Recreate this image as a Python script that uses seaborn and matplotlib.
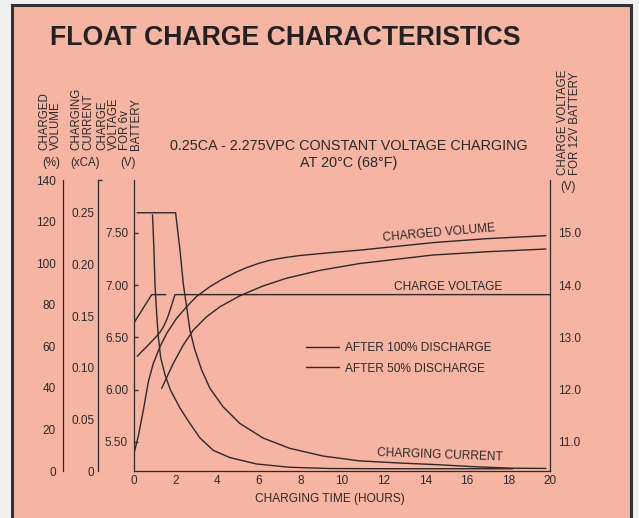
import matplotlib
matplotlib.use("Agg")
import matplotlib.pyplot as plt
from matplotlib.patches import Rectangle
from matplotlib.lines import Line2D
from matplotlib.ticker import FixedLocator, FormatStrFormatter
import seaborn as sns

# charging current (xCA)
cur_100_h = [0.15, 2.0, 2.21, 2.37, 2.53, 2.69, 2.93, 3.25, 3.65, 4.29, 5.09, 6.20, 7.48,
             9.08, 10.84, 12.8, 14.7, 16.5, 18.2, 19.8]
cur_100 = [0.250, 0.250, 0.214, 0.181, 0.159, 0.136, 0.117, 0.098, 0.080, 0.062, 0.046, 0.032,
           0.022, 0.0145, 0.0098, 0.0077, 0.006, 0.004, 0.0027, 0.0025]
cur_50_h = [0.89, 0.96, 1.01, 1.09, 1.17, 1.28, 1.49, 1.76, 2.21, 2.69, 3.17, 3.81, 4.61,
            5.89, 7.5, 9.42, 12.0, 15.0, 18.2]
cur_50 = [0.248, 0.214, 0.180, 0.152, 0.130, 0.110, 0.093, 0.078, 0.061, 0.046, 0.032, 0.020,
          0.013, 0.0068, 0.0036, 0.0024, 0.0022, 0.0022, 0.0022]

# charge voltage, 6V battery (V)
volt_100_h = [0.15, 0.60, 1.08, 1.25, 1.41, 1.55, 1.65, 1.73, 1.81, 1.89, 1.97, 20.0]
volt_100 = [6.32, 6.41, 6.51, 6.55, 6.60, 6.66, 6.71, 6.76, 6.81, 6.86, 6.91, 6.91]
volt_50_h = [0.0, 0.85, 1.53]
volt_50 = [6.64, 6.91, 6.91]

# charged volume (%)
vol_50_h = [0.0, 0.2, 0.45, 0.69, 0.93, 1.25, 1.57, 2.05, 2.53, 3.0, 3.65, 4.2, 4.9, 5.4,
            6.0, 6.5, 7.2, 8.0, 9.5, 11.0, 14.4, 17.0, 19.8]
vol_50 = [8.5, 16.5, 29.3, 43.0, 51.8, 59.8, 66.2, 73.5, 79.0, 83.9, 88.7, 92.0, 95.6, 97.8,
          99.9, 101.3, 102.6, 103.7, 105.1, 106.4, 109.9, 111.8, 113.2]
vol_100_h = [1.33, 1.89, 2.37, 2.85, 3.49, 4.13, 5.09, 6.2, 7.32, 8.92, 10.84, 14.36, 17.0, 19.8]
vol_100 = [39.8, 51.8, 60.6, 67.8, 74.2, 79.0, 84.3, 89.0, 92.7, 96.5, 99.8, 103.9, 105.5, 106.8]

hour_ticks = [0, 2, 4, 6, 8, 10, 12, 14, 16, 18, 20]
v6_ticks = [5.50, 6.00, 6.50, 7.00, 7.50]
v12_ticks = [11.0, 12.0, 13.0, 14.0, 15.0]
cur_ticks = [0, 0.05, 0.10, 0.15, 0.20, 0.25]
vol_ticks = [0, 20, 40, 60, 80, 100, 120, 140]

sns.set_style("ticks")
plt.rcParams["font.family"] = ["Liberation Sans", "DejaVu Sans"]

W, H = 639, 518
ink = "#2a2a2a"
pink = "#f6b4a3"


def fx(px):
    return px / W


def fy(py):
    return 1 - py / H


fig = plt.figure(figsize=(W / 100, H / 100), dpi=100, facecolor="#f0f0f0")
fig.add_artist(Rectangle((fx(12), -0.05), fx(631) - fx(12), fy(5) + 0.05,
                         transform=fig.transFigure, facecolor=pink, edgecolor="#333333",
                         linewidth=2.2, zorder=-1))

ax = fig.add_axes([fx(134), fy(471), fx(550) - fx(134), fy(180) - fy(471)])
ax.patch.set_visible(False)
ax_cur = ax.twinx()
ax_vol = ax.twinx()
ax_r = ax.twinx()

lw = 1.0
for h, v in [(volt_100_h, volt_100), (volt_50_h, volt_50)]:
    sns.lineplot(x=h, y=v, ax=ax, color=ink, lw=lw, sort=False, estimator=None)
for h, v in [(cur_100_h, cur_100), (cur_50_h, cur_50)]:
    sns.lineplot(x=h, y=v, ax=ax_cur, color=ink, lw=lw, sort=False, estimator=None)
for h, v in [(vol_50_h, vol_50), (vol_100_h, vol_100)]:
    sns.lineplot(x=h, y=v, ax=ax_vol, color=ink, lw=lw, sort=False, estimator=None)

v6_lim = (5.222, 8.007)
ax.set_xlim(0, 20)
ax.set_ylim(*v6_lim)
ax_r.set_ylim(v6_lim[0] * 2, v6_lim[1] * 2)
ax_cur.set_ylim(0, 0.2817)
ax_vol.set_ylim(0, 140)

tick_fs = 8.5
ax.set_xticks(hour_ticks)
ax.set_xticklabels([str(t) for t in hour_ticks])
ax.set_yticks(v6_ticks)
ax.yaxis.set_major_formatter(FormatStrFormatter("%.2f"))
ax.tick_params(axis="x", length=0, pad=3, labelsize=tick_fs, colors=ink)
ax.tick_params(axis="y", direction="in", length=3, width=0.9, pad=4.3, labelsize=tick_fs, colors=ink)
for s in ["left", "bottom", "right"]:
    ax.spines[s].set_color(ink)
    ax.spines[s].set_linewidth(0.9)
ax.spines["top"].set_visible(False)

ax_r.set_yticks(v12_ticks)
ax_r.yaxis.set_major_formatter(FormatStrFormatter("%.1f"))
ax_r.tick_params(axis="y", length=0, pad=5.8, labelsize=tick_fs, colors=ink)
for s in ax_r.spines.values():
    s.set_visible(False)

axis_w = 550 - 134
for a, xpos, ticks, top, fmt, pad in [
    (ax_cur, 98.3, cur_ticks, 0.2817, lambda t: "0" if t == 0 else f"{t:.2f}", 3),
    (ax_vol, 63, vol_ticks, 140, lambda t: str(t), 5),
]:
    for s in a.spines.values():
        s.set_visible(False)
    a.spines["left"].set_visible(True)
    a.spines["left"].set_position(("axes", (xpos - 134) / axis_w))
    a.spines["left"].set_color(ink)
    a.spines["left"].set_linewidth(0.9)
    a.yaxis.set_ticks_position("left")
    a.yaxis.set_label_position("left")
    a.set_yticks(ticks)
    a.set_yticklabels([fmt(t) for t in ticks])
    a.yaxis.set_minor_locator(FixedLocator([0, top]))
    a.tick_params(axis="y", which="major", length=0, pad=pad, labelsize=tick_fs, colors=ink)
    a.tick_params(axis="y", which="minor", direction="in", length=3, width=0.9, colors=ink)

for a in [ax, ax_cur, ax_vol, ax_r]:
    a.set_xlabel("")
    a.set_ylabel("")

# titles and axis captions
fig.text(fx(50), fy(38), "FLOAT CHARGE CHARACTERISTICS", fontsize=19.2, fontweight="bold",
         color="#222222", ha="left", va="center")
fig.text(fx(349), fy(146), "0.25CA - 2.275VPC CONSTANT VOLTAGE CHARGING",
         fontsize=10.4, color=ink, ha="center", va="center")
fig.text(fx(349), fy(163), "AT 20°C (68°F)", fontsize=10.4, color=ink, ha="center", va="center")

cap_fs = 8.3
for x, txt in [(50.5, "CHARGED\nVOLUME"), (82.5, "CHARGING\nCURRENT"),
               (119.5, "CHARGE\nVOLTAGE\nFOR 6v\nBATTERY")]:
    fig.text(fx(x), fy(150), txt, rotation=90, fontsize=cap_fs, color=ink, ha="center",
             va="bottom", multialignment="left", linespacing=0.92)
fig.text(fx(569), fy(175), "CHARGE VOLTAGE\nFOR 12V BATTERY", rotation=90, fontsize=cap_fs,
         color=ink, ha="center", va="bottom", multialignment="left", linespacing=0.92)
for x, y, txt in [(51, 163, "(%)"), (85.5, 163, "(xCA)"), (128, 163, "(V)"), (568, 187, "(V)")]:
    fig.text(fx(x), fy(y), txt, fontsize=cap_fs, color=ink, ha="center", va="center")

fig.text(fx(330), fy(499), "CHARGING TIME (HOURS)", fontsize=8.6, color=ink, ha="center", va="center")

# curve labels
ann_fs = 8.6
fig.text(fx(439), fy(233), "CHARGED VOLUME", fontsize=ann_fs, color=ink, ha="center",
         va="center", rotation=5, rotation_mode="anchor")
fig.text(fx(448), fy(287), "CHARGE VOLTAGE", fontsize=ann_fs, color=ink, ha="center", va="center")
fig.text(fx(440), fy(455), "CHARGING CURRENT", fontsize=ann_fs, color=ink, ha="center",
         va="center", rotation=-2, rotation_mode="anchor")

handles = [Line2D([], [], color=ink, lw=lw), Line2D([], [], color=ink, lw=lw)]
ax.legend(handles, ["AFTER 100% DISCHARGE", "AFTER 50% DISCHARGE"], loc="upper left",
          bbox_to_anchor=(fx(306), fy(342)), bbox_transform=fig.transFigure, frameon=False,
          borderpad=0, borderaxespad=0, handlelength=2.75, handletextpad=0.5,
          labelspacing=0.72, fontsize=ann_fs, labelcolor=ink)

fig.savefig("out.png", dpi=100, facecolor=fig.get_facecolor())
